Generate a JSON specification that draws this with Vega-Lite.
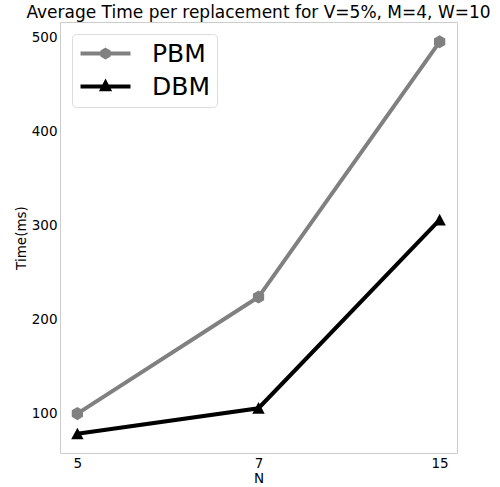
{
  "$schema": "https://vega.github.io/schema/vega-lite/v6.json",
  "width": 397,
  "height": 431,
  "padding": {"left": 14, "top": 4, "right": 5, "bottom": 5},
  "background": "white",
  "title": {"text": "Average Time per replacement for V=5%, M=4, W=10", "fontSize": 17, "font": "DejaVu Sans", "fontWeight": "normal", "color": "#000000", "offset": 0, "anchor": "middle"},
  "config": {
    "view": {"stroke": "#cccccc", "strokeWidth": 1},
    "font": "DejaVu Sans",
    "axis": {"grid": false, "domain": false, "ticks": false, "labelFont": "DejaVu Sans", "titleFont": "DejaVu Sans", "labelFontSize": 13.5, "titleFontSize": 13.5, "labelColor": "#000000", "titleColor": "#000000", "titleFontWeight": "normal", "labelPadding": 3},
    "legend": {"orient": "top-left", "offset": 12, "labelFont": "DejaVu Sans", "labelFontSize": 25, "labelColor": "#000000", "symbolSize": 144, "symbolStrokeWidth": 4, "symbolOpacity": 1, "strokeColor": "#dddddd", "fillColor": "#ffffff", "cornerRadius": 4, "padding": 7, "rowPadding": 7, "labelOffset": 48, "labelLimit": 300}
  },
  "data": {"values": [
    {"N": "5", "time": 100, "series": "PBM"},
    {"N": "7", "time": 224, "series": "PBM"},
    {"N": "15", "time": 495.5, "series": "PBM"},
    {"N": "5", "time": 78.5, "series": "DBM"},
    {"N": "7", "time": 105.7, "series": "DBM"},
    {"N": "15", "time": 306, "series": "DBM"}
  ]},
  "encoding": {
    "x": {"field": "N", "type": "ordinal", "sort": ["5", "7", "15"], "scale": {"type": "point", "padding": 0.096}, "axis": {"title": "N", "labelAngle": 0, "titlePadding": 2}},
    "y": {"field": "time", "type": "quantitative", "scale": {"domain": [58.1, 516.6], "nice": false, "zero": false}, "axis": {"title": "Time(ms)", "values": [100, 200, 300, 400, 500], "titlePadding": 3}}
  },
  "layer": [
    {
      "mark": {"type": "line", "strokeWidth": 4},
      "encoding": {"color": {"field": "series", "type": "nominal", "scale": {"domain": ["PBM", "DBM"], "range": ["#808080", "#000000"]}, "legend": {"title": null, "encode": {"symbols": {"update": {
        "shape": {"signal": "datum.value === 'PBM' ? 'M-1.83,0L6.5,0M2.34,-0.6L2.86,-0.3L2.86,0.3L2.34,0.6L1.82,0.3L1.82,-0.3Z' : 'M-1.83,0L6.5,0M2.34,-0.6L2.89,0.45L1.79,0.45Z'"},
        "fill": {"signal": "datum.value === 'PBM' ? '#808080' : '#000000'"},
        "stroke": {"signal": "datum.value === 'PBM' ? '#808080' : '#000000'"},
        "strokeWidth": {"value": 4},
        "size": {"value": 144},
        "opacity": {"value": 1},
        "fillOpacity": {"value": 1},
        "strokeOpacity": {"value": 1}
      }}}}}}
    },
    {
      "transform": [{"filter": "datum.series === 'PBM'"}],
      "mark": {"type": "point", "filled": true, "size": 170, "opacity": 1, "color": "#808080", "shape": "M0,-1L0.866,-0.5L0.866,0.5L0,1L-0.866,0.5L-0.866,-0.5Z"}
    },
    {
      "transform": [{"filter": "datum.series === 'DBM'"}],
      "mark": {"type": "point", "filled": true, "size": 170, "opacity": 1, "color": "#000000", "shape": "M0,-0.95L0.95,0.85L-0.95,0.85Z"}
    }
  ]
}
